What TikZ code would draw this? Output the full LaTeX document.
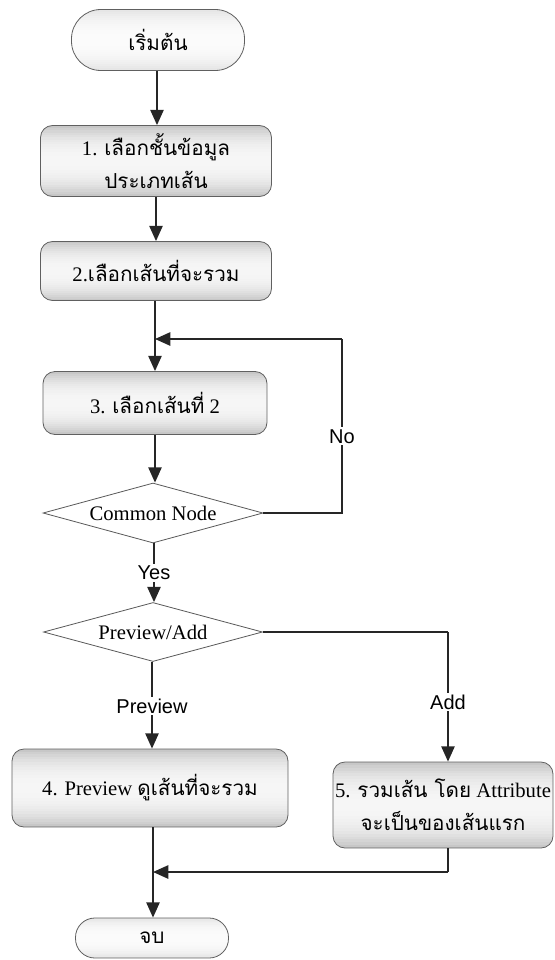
\documentclass[tikz,border=0pt]{standalone}
\usepackage{fontspec}
\setmainfont{Liberation Serif}
\newfontfamily\thai[Script=Thai]{Loma}
\newfontfamily\arial{Liberation Sans}
\usetikzlibrary{arrows.meta,shapes.geometric,calc}

% banded vertical fill: light in the middle, darker towards top and bottom
\newcommand{\bandfill}[2]{%
  \foreach \i in {0,...,29}{
    \pgfmathsetmacro\bandt{abs(\i+0.5-15)/15}
    \pgfmathsetmacro\bandg{#1+#2*\bandt^2.4}
    \fill[sharp corners, gray!\bandg]
      ($(path picture bounding box.north west)!{\i/30}!(path picture bounding box.south west)$)
      rectangle
      ($(path picture bounding box.north east)!{(\i+1.1)/30}!(path picture bounding box.south east)$);
  }}

\tikzset{
  px/.style={x=0.75pt,y=-0.75pt},
  boxtext/.style={font=\fontsize{15.5}{25}\selectfont, align=center, text=black},
  stepbox/.style={boxtext, rectangle, rounded corners=9pt, draw=gray!75!black, line width=0.6pt,
    inner sep=0pt, path picture={\bandfill{7}{40}}},
  termbox/.style={boxtext, rectangle, draw=gray!75!black, line width=0.6pt,
    inner sep=0pt, path picture={\bandfill{3}{18}}},
  decision/.style={boxtext, diamond, draw=gray!70!black, line width=0.6pt, fill=white, inner sep=0pt},
  flow/.style={line width=1.3pt, draw=black!85},
  arr/.style={flow, -{Triangle[length=11.5pt,width=10pt]}},
  lbl/.style={font=\arial\fontsize{15}{18}\selectfont, fill=white, inner sep=1.5pt, text=black},
}

\begin{document}
\begin{tikzpicture}[px]
\useasboundingbox (0,0) rectangle (555,960);

% main column of steps
\node[termbox, rounded corners=22pt, minimum width=173*0.75pt, minimum height=61*0.75pt] (start) at (158,40)
  {\thai เริ่มต้น};
\node[stepbox, minimum width=231*0.75pt, minimum height=71*0.75pt] (s1) at (156,161)
  {1. {\thai เลือกชั้นข้อมูล}\\{\thai ประเภทเส้น}};
\node[stepbox, minimum width=231*0.75pt, minimum height=59*0.75pt] (s2) at (156,271)
  {2.{\thai เลือกเส้นที่จะรวม}};
\node[stepbox, minimum width=224*0.75pt, minimum height=63*0.75pt] (s3) at (155,403)
  {3. {\thai เลือกเส้นที่} 2};
\node[decision, minimum width=220*0.75pt, minimum height=60*0.75pt, aspect=3.67] (cn) at (153,513)
  {Common Node};
\node[decision, minimum width=219*0.75pt, minimum height=59*0.75pt, aspect=3.7] (pa) at (153,632)
  {Preview/Add};
\node[stepbox, minimum width=276*0.75pt, minimum height=78*0.75pt] (s4) at (150,788)
  {4. Preview {\thai ดูเส้นที่จะรวม}};
\node[stepbox, minimum width=220*0.75pt, minimum height=86*0.75pt] (s5) at (443,805)
  {5. {\thai รวมเส้น โดย} Attribute\\{\thai จะเป็นของเส้นแรก}};
\node[termbox, rounded corners=14.5pt, minimum width=153*0.75pt, minimum height=40*0.75pt] (stop) at (152,938)
  {\thai จบ};

% loop-back and merge points
\coordinate (loopin) at (155,339);
\coordinate (loopR) at (342,339);
\coordinate (mergein) at (153,872);
\coordinate (mergeR) at (448,872);

% straight connectors
\draw[arr] (start.south -| 157,0) -- (s1.north -| 157,0);
\draw[arr] (s1.south -| 156,0) -- (s2.north -| 156,0);
\draw[arr] (s2.south -| 155,0) -- (s3.north -| 155,0);
\draw[arr] (s3.south -| 155,0) -- (cn.north -| 155,0);
\draw[arr] (cn.south -| 154,0) -- node[lbl, pos=0.5] {Yes} (pa.north -| 154,0);
\draw[arr] (pa.south -| 152,0) -- node[lbl, pos=0.51] {Preview} (s4.north -| 152,0);
\draw[arr] (s4.south -| 153,0) -- (stop.north -| 153,0);

% "No" branch back above step 3
\draw[flow] (cn.east) -| node[lbl, pos=0.72] {No} (loopR);
\draw[arr] (loopR) -- (loopin);

% "Add" branch to step 5
\draw[flow] (pa.east) -- (pa.east -| 448,0);
\draw[arr] (pa.east -| 448,0) -- node[lbl, pos=0.54] {Add} (s5.north -| 448,0);

% step 5 rejoins the main column
\draw[flow] (s5.south -| 448,0) -- (mergeR);
\draw[arr] (mergeR) -- (mergein);
\end{tikzpicture}
\end{document}
